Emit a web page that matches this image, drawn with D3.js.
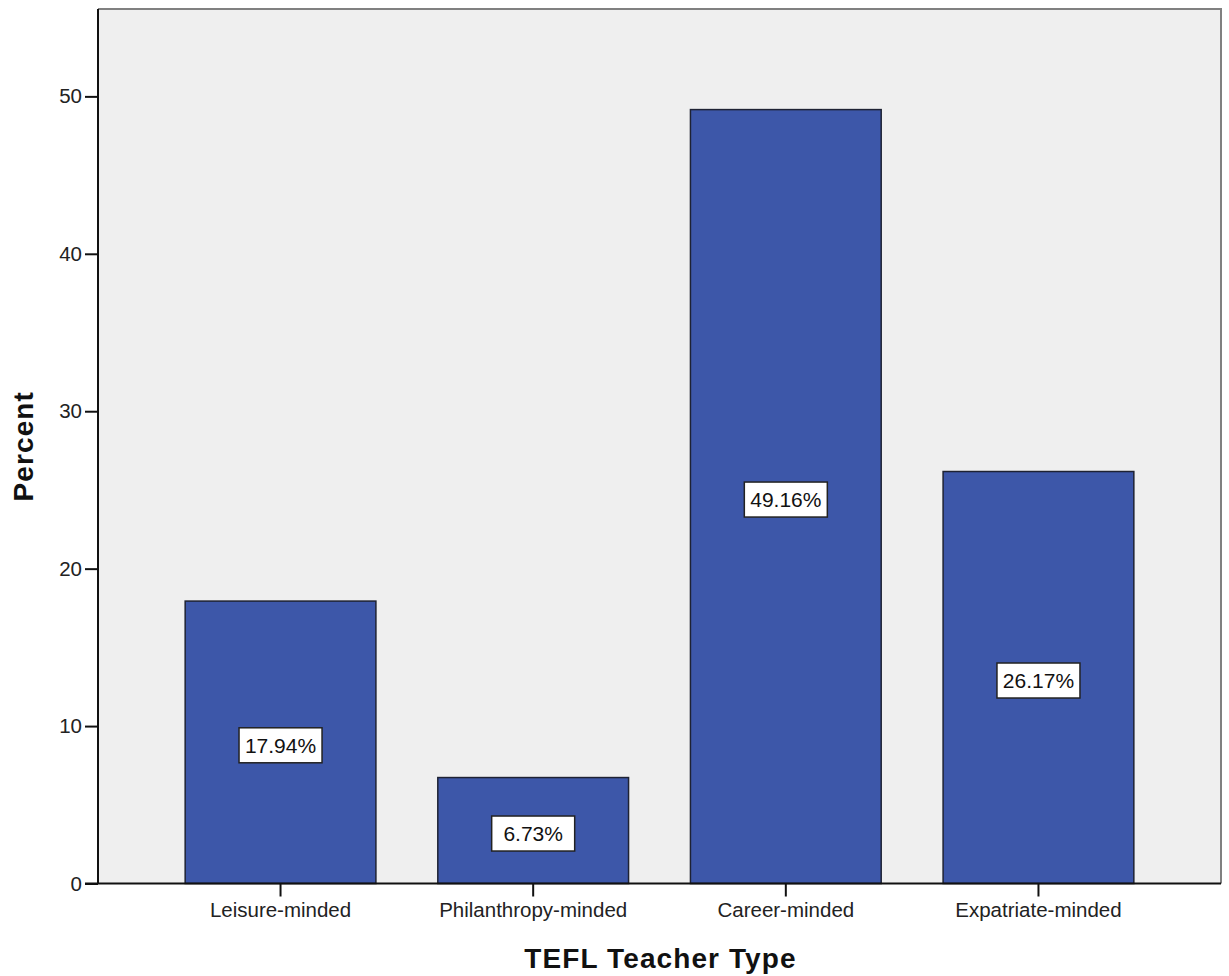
<!DOCTYPE html>
<html><head><meta charset="utf-8">
<script src="https://cdn.jsdelivr.net/npm/d3@7"></script>
<style>body{margin:0;background:#fff}</style>
</head><body>
<script>
const categories = ["Leisure-minded","Philanthropy-minded","Career-minded","Expatriate-minded"];
const percents = [17.94, 6.73, 49.16, 26.17];
const yTicks = [0,10,20,30,40,50];
const xTitle = "TEFL Teacher Type";
const yTitle = "Percent";

const W=1229,H=976;
const L=98,R=1221,T=9,B=883.5;
const svg=d3.select("body").append("svg").attr("width",W).attr("height",H);
const x=d3.scaleBand().domain(categories).range([L,R]).paddingInner(0.245).paddingOuter(0.345);
const y=d3.scaleLinear().domain([0,55.55]).range([B,T]);

svg.append("rect").attr("x",L).attr("y",T).attr("width",R-L).attr("height",B-T).attr("fill","#efefef");
// top & right border
svg.append("path").attr("d",`M${L},${T}H${R}V${B}`).attr("fill","none").attr("stroke","#808080").attr("stroke-width",2);

svg.selectAll("rect.bar").data(percents).enter().append("rect").attr("class","bar")
 .attr("x",(d,i)=>x(categories[i])).attr("width",x.bandwidth())
 .attr("y",d=>y(d)).attr("height",d=>B-y(d))
 .attr("fill","#3d57a9").attr("stroke","#1e2233").attr("stroke-width",1.5);

const fontF="Arial, 'Liberation Sans', sans-serif";
// value labels
const lab=svg.selectAll("g.lab").data(percents).enter().append("g").attr("class","lab")
 .attr("transform",(d,i)=>`translate(${x(categories[i])+x.bandwidth()/2},${y(d/2)+3})`);
lab.append("rect").attr("x",-41.5).attr("y",-17.5).attr("width",83).attr("height",35)
 .attr("fill","#fff").attr("stroke","#222").attr("stroke-width",1.5);
lab.append("text").attr("text-anchor","middle").attr("dy","0.36em")
 .attr("font-family",fontF).attr("font-size",21).attr("fill","#111").text(d=>d.toFixed(2)+"%");

// axes
const yAxis=d3.axisLeft(y).tickValues(yTicks).tickSize(13).tickPadding(3);
const gy=svg.append("g").attr("transform",`translate(${L},0)`).call(yAxis);
gy.select(".domain").attr("stroke","#111").attr("stroke-width",2).attr("d",`M0,${T}V${B}`);
gy.selectAll(".tick line").attr("stroke","#111").attr("stroke-width",2);
gy.selectAll(".tick text").attr("font-family",fontF).attr("font-size",20.5).attr("fill","#222");

const xAxis=d3.axisBottom(x).tickSize(13).tickPadding(6);
const gx=svg.append("g").attr("transform",`translate(0,${B})`).call(xAxis);
gx.select(".domain").attr("stroke","#111").attr("stroke-width",2).attr("d",`M${L-13},0H${R}`);
gx.selectAll(".tick line").attr("stroke","#111").attr("stroke-width",2);
gx.selectAll(".tick text").attr("font-family",fontF).attr("font-size",20.5).attr("fill","#222");

svg.append("text").attr("x",(L+R)/2+1).attr("y",968).attr("text-anchor","middle")
 .attr("font-family",fontF).attr("font-weight","bold").attr("font-size",28).attr("letter-spacing",1.1)
 .attr("fill","#111").text(xTitle);
svg.append("text").attr("transform",`translate(33,${(T+B)/2}) rotate(-90)`).attr("text-anchor","middle")
 .attr("font-family",fontF).attr("font-weight","bold").attr("font-size",28).attr("letter-spacing",1.1)
 .attr("fill","#111").text(yTitle);
</script>
</body></html>
